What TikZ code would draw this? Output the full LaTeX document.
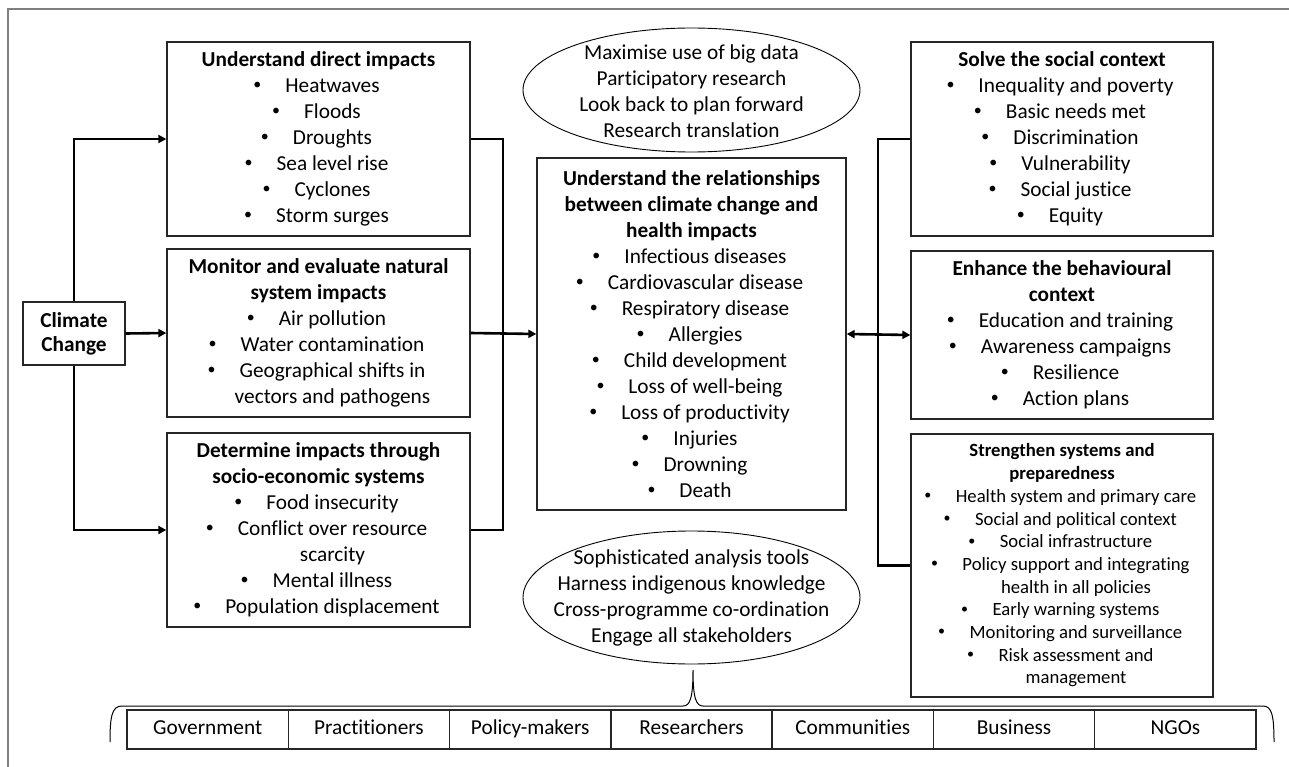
\documentclass[tikz,border=0pt]{standalone}
\usepackage{fontspec}
\usepackage{graphicx}
\setmainfont{Carlito}[Ligatures=NoCommon]
\usetikzlibrary{shapes.geometric,arrows.meta}
\newcommand{\smbul}{\raisebox{0.14em}{\scalebox{0.75}{\textbullet}}}
\newcommand{\bitem}[1]{\makebox[0pt]{\smbul}\hspace*{28pt}#1}
\newcommand{\citem}[1]{\hspace*{28pt}#1}
\begin{document}
\begin{tikzpicture}[x=1pt,y=-1pt,
  box/.style={draw=black!85,line width=1.3pt,inner sep=0pt,align=center,
    font=\fontsize{21.3pt}{26pt}\selectfont},
  smallbox/.style={box,font=\fontsize{18.7pt}{22.7pt}\selectfont},
  cell/.style={draw=black!85,line width=1.3pt,inner sep=0pt,minimum width=161.3pt,
    minimum height=39pt,text height=14.5pt,text depth=4.5pt,font=\fontsize{21.3pt}{26pt}\selectfont},
  oval/.style={draw=black,line width=0.9pt,ellipse,inner sep=0pt},
  ovaltext/.style={align=center,inner sep=0pt,font=\fontsize{21.3pt}{26pt}\selectfont},
  conn/.style={line width=2.6pt},
  arr/.style={conn,-{Triangle[length=8pt,width=8pt]}},
  darr/.style={conn,{Triangle[length=8pt,width=8pt]}-{Triangle[length=8pt,width=8pt]}}
]
\useasboundingbox (0,0) rectangle (1289,767);
% frame
\draw[gray,line width=1.2pt] (8,767) -- (8,9) -- (1289,9);

% climate change
\node[box,minimum width=102pt,minimum height=63pt,font=\fontsize{21.3pt}{24pt}\selectfont\bfseries] (cc) at (74,333.5) {Climate\\Change};

% left column
\node[box,minimum width=303pt,minimum height=194pt] (b1) at (318.5,139) {%
\textbf{Understand direct impacts}\\
\bitem{Heatwaves}\\
\bitem{Floods}\\
\bitem{Droughts}\\
\bitem{Sea level rise}\\
\bitem{Cyclones}\\
\bitem{Storm surges}};

\node[box,minimum width=303pt,minimum height=168pt] (b2) at (318.5,333) {%
\textbf{Monitor and evaluate natural}\\
\textbf{system impacts}\\
\bitem{Air pollution}\\
\bitem{Water contamination}\\
\bitem{Geographical shifts in}\\
\citem{vectors and pathogens}};

\node[box,minimum width=303pt,minimum height=194pt] (b3) at (318.5,530) {%
\textbf{Determine impacts through}\\
\textbf{socio-economic systems}\\
\bitem{Food insecurity}\\
\bitem{Conflict over resource}\\
\citem{scarcity}\\
\bitem{Mental illness}\\
\bitem{Population displacement}};

% central
\node[box,minimum width=309pt,minimum height=352pt] (cen) at (691.5,334) {%
\textbf{Understand the relationships}\\
\textbf{between climate change and}\\
\textbf{health impacts}\\
\bitem{Infectious diseases}\\
\bitem{Cardiovascular disease}\\
\bitem{Respiratory disease}\\
\bitem{Allergies}\\
\bitem{Child development}\\
\bitem{Loss of well-being}\\
\bitem{Loss of productivity}\\
\bitem{Injuries}\\
\bitem{Drowning}\\
\bitem{Death}};

% ellipses
\node[oval,minimum width=337pt,minimum height=124pt] (e1) at (691.5,90) {};
\node[ovaltext] (e1t) at (691.5,91.5) {Maximise use of big data\\Participatory research\\Look back to plan forward\\Research translation};
\node[oval,minimum width=337pt,minimum height=133pt] (e2) at (691.5,597.5) {};
\node[ovaltext] (e2t) at (691.5,597.5) {Sophisticated analysis tools\\Harness indigenous knowledge\\Cross-programme co-ordination\\Engage all stakeholders};

% right column
\node[box,minimum width=302pt,minimum height=194pt] (r1) at (1062,139) {%
\textbf{Solve the social context}\\
\bitem{Inequality and poverty}\\
\bitem{Basic needs met}\\
\bitem{Discrimination}\\
\bitem{Vulnerability}\\
\bitem{Social justice}\\
\bitem{Equity}};

\node[box,minimum width=302pt,minimum height=168pt] (r2) at (1062,335) {%
\textbf{Enhance the behavioural}\\
\textbf{context}\\
\bitem{Education and training}\\
\bitem{Awareness campaigns}\\
\bitem{Resilience}\\
\bitem{Action plans}};

\node[smallbox,minimum width=302pt,minimum height=263pt] (r3) at (1062,565.5) {%
\textbf{Strengthen systems and}\\
\textbf{preparedness}\\
\bitem{Health system and primary care}\\
\bitem{Social and political context}\\
\bitem{Social infrastructure}\\
\bitem{Policy support and integrating}\\
\citem{health in all policies}\\
\bitem{Early warning systems}\\
\bitem{Monitoring and surveillance}\\
\bitem{Risk assessment and}\\
\citem{management}};

% stakeholders
\foreach \i/\t in {1/Government,2/Practitioners,3/Policy-makers,4/Researchers,5/Communities,6/Business,7/NGOs}{
  \node[cell] (s\i) at ({127+161.286*(\i-0.5)},729.5) {\t};
}

% connectors left
\coordinate (cl1) at (74,139);
\coordinate (cl3) at (74,530);
\draw[arr] (cc.north) -- (cl1) -- (b1.west);
\draw[arr] (cc.east) -- (b2.west);
\draw[arr] (cc.south) -- (cl3) -- (b3.west);
\coordinate (jl1) at (503,139);
\coordinate (jl3) at (503,530);
\draw[conn] (b1.east) -- (jl1) -- (jl3) -- (b3.east);
\draw[arr] (b2.east) -- (cen.west);

% connectors right
\coordinate (jr1) at (878,139);
\coordinate (jr3) at (878,565.5);
\draw[conn] (r1.west) -- (jr1) -- (jr3) -- (r3.west);
\draw[darr] (cen.east) -- (r2.west);

% brace
\draw[line width=1pt] (110,742) .. controls (110,716) and (112,706) .. (122,706)
  -- (683,706) .. controls (690,706) and (693,698) .. (693,670)
  .. controls (693,698) and (696,706) .. (703,706)
  -- (1263,706) .. controls (1272,706) and (1274,716) .. (1274,742);
\end{tikzpicture}
\end{document}
